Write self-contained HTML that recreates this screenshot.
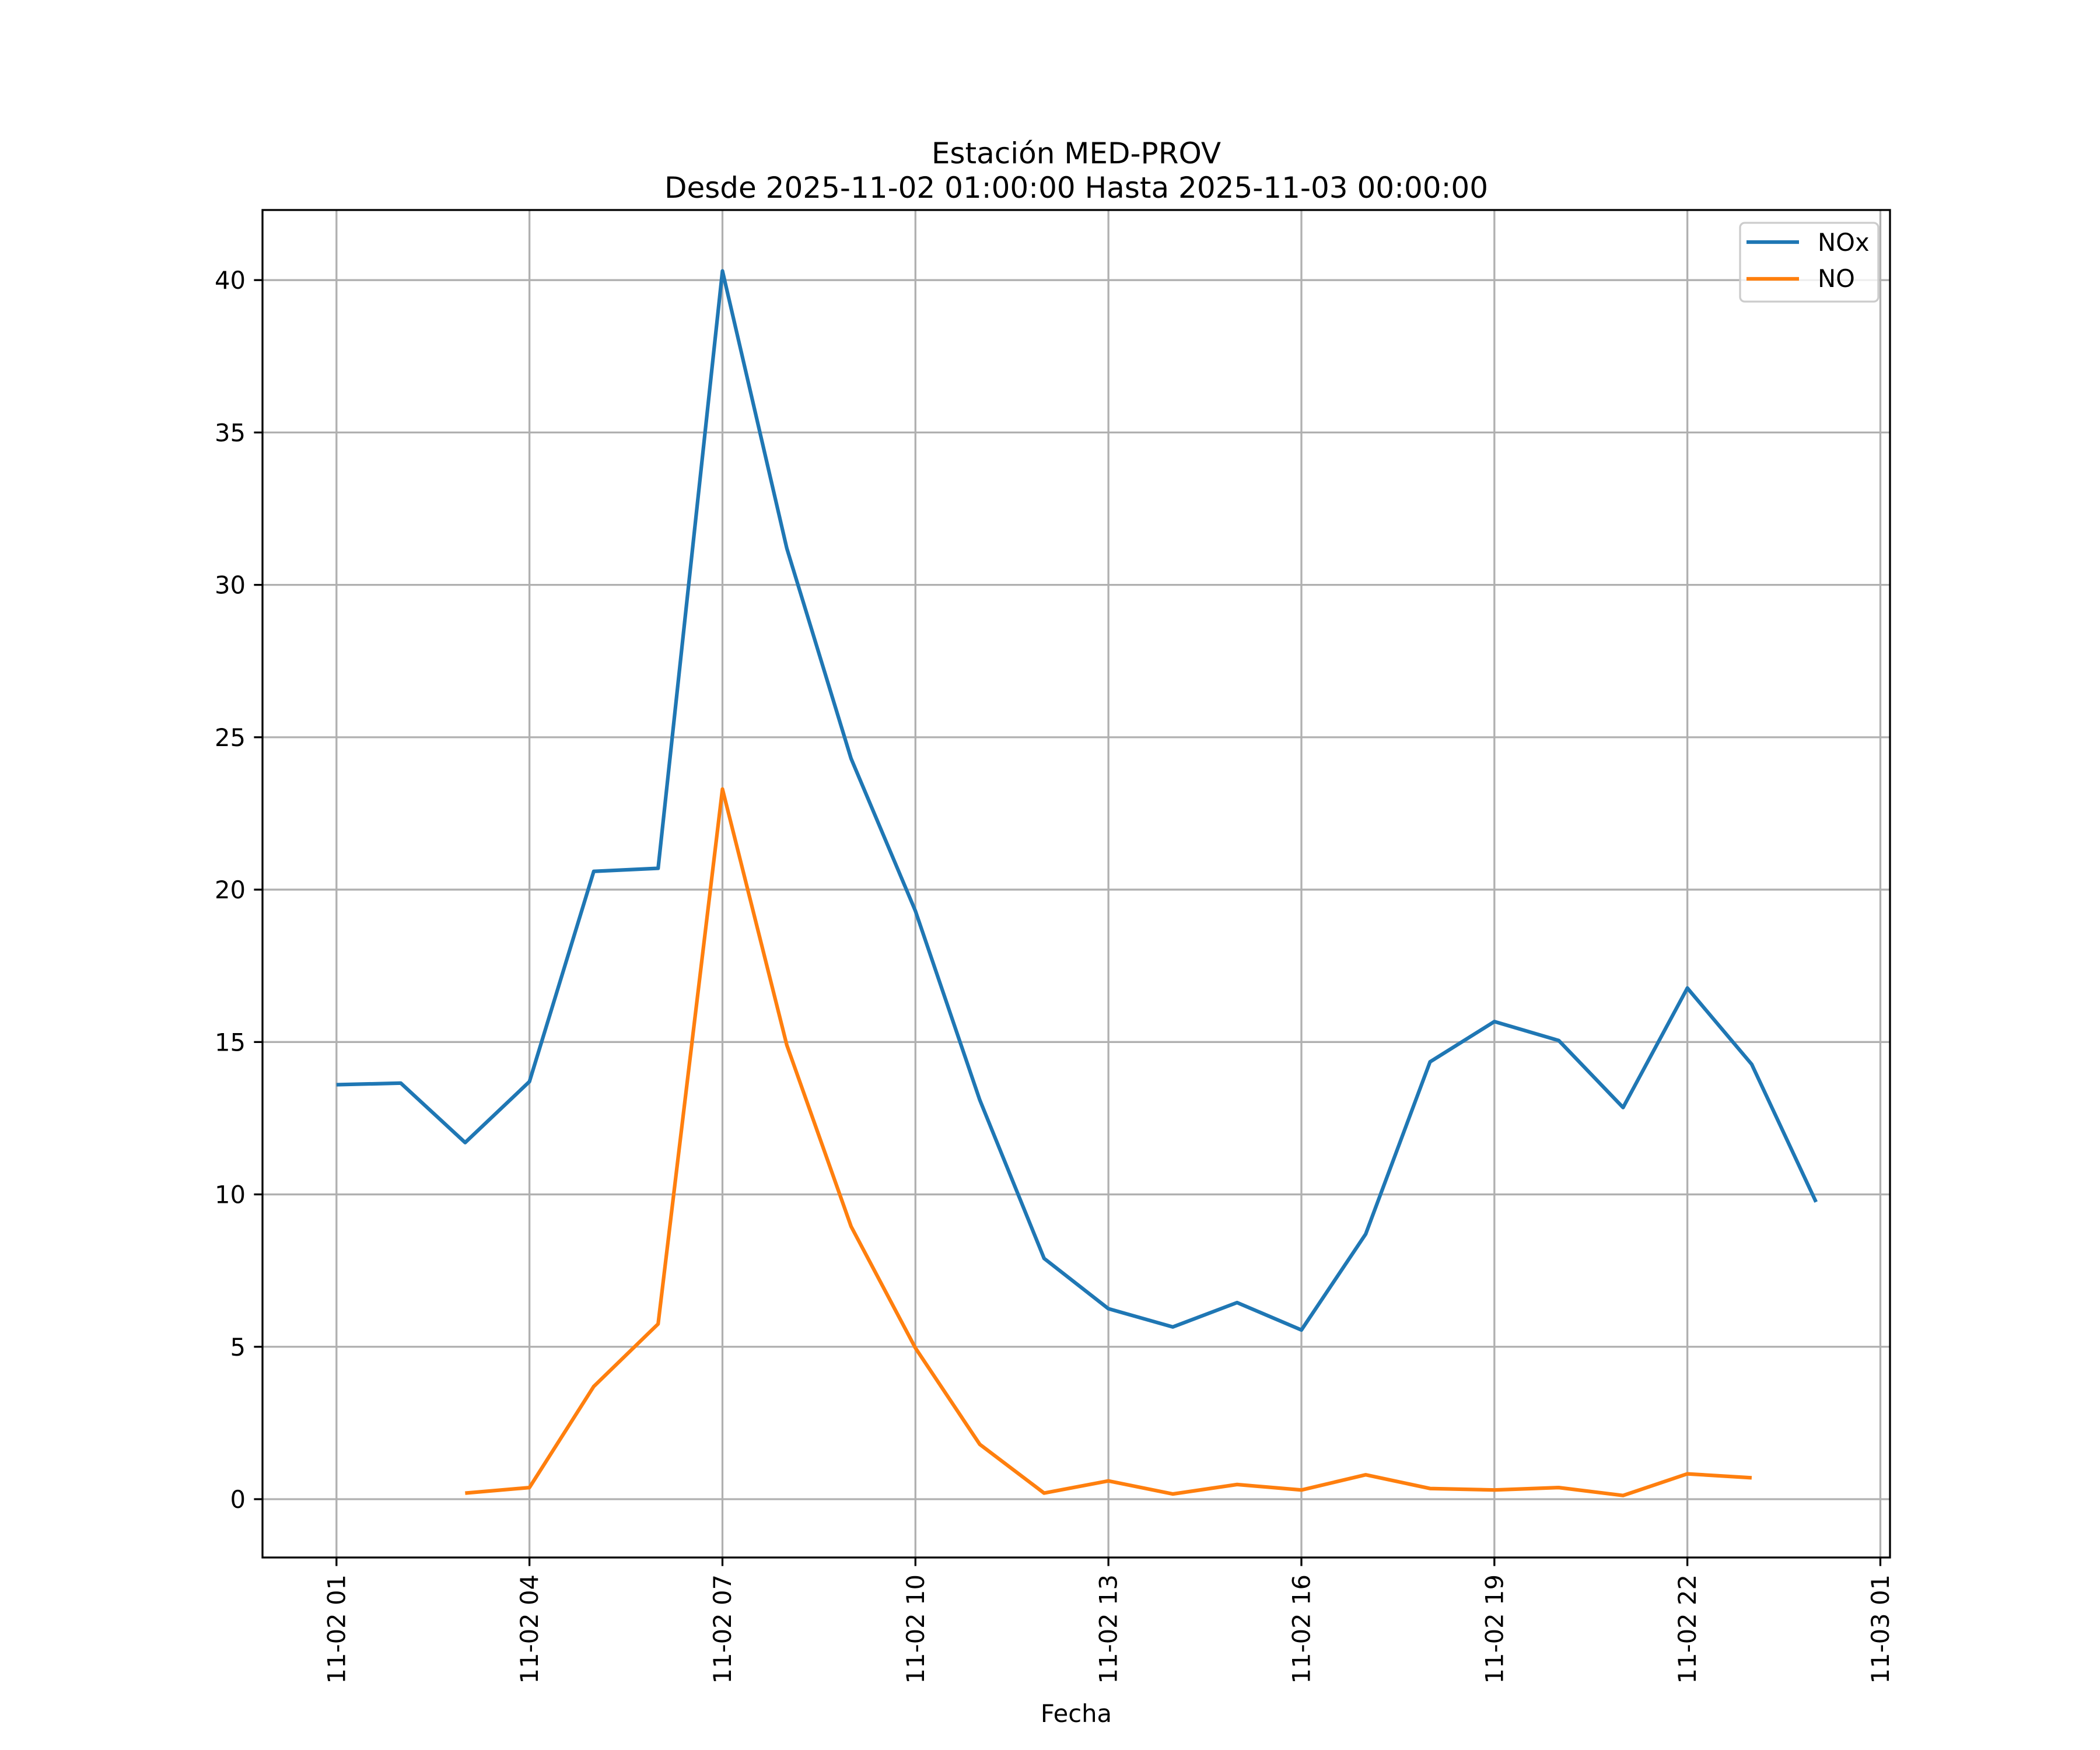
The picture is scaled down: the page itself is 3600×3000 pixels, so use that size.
<!DOCTYPE html>
<html><head><meta charset="utf-8"><style>
html,body{margin:0;padding:0;background:#fff;}
svg{display:block;font-family:"DejaVu Sans","Liberation Sans",sans-serif;}
</style></head><body>
<svg id="chart" width="3600" height="3000" xmlns="http://www.w3.org/2000/svg">
<text x="1845" y="280" font-size="50" text-anchor="middle">Estación MED-PROV</text>
<text x="1845" y="339" font-size="50" text-anchor="middle">Desde 2025-11-02 01:00:00 Hasta 2025-11-03 00:00:00</text>
<g id="grid"></g>
<g id="series"></g>
<rect x="450" y="360" width="2790" height="2310" fill="none" stroke="#000" stroke-width="3.3"/>
<g id="ticks"></g>
<text x="1845" y="2952" font-size="41.7" text-anchor="middle">Fecha</text>
<g>
<rect x="2983" y="382" width="237" height="135" rx="8" fill="#fff" fill-opacity="0.8" stroke="#ccc" stroke-width="3.3"/>
<line x1="2994" y1="415" x2="3084" y2="415" stroke="#1f77b4" stroke-width="6.25"/>
<text x="3116" y="430" font-size="41.7">NOx</text>
<line x1="2994" y1="478" x2="3084" y2="478" stroke="#ff7f0e" stroke-width="6.25"/>
<text x="3116" y="492" font-size="41.7">NO</text>
</g>
</svg>
<script>
const hours = [1,2,3,4,5,6,7,8,9,10,11,12,13,14,15,16,17,18,19,20,21,22,23,24];
const noxValues = [13.6,13.65,11.7,13.7,20.6,20.7,40.3,31.2,24.3,19.3,13.1,7.9,6.25,5.65,6.45,5.55,8.7,14.35,15.67,15.05,12.85,16.77,14.27,9.75];
const noValues = [null,null,0.2,0.38,3.7,5.75,23.3,14.9,8.95,4.96,1.8,0.2,0.6,0.17,0.48,0.3,0.8,0.35,0.3,0.38,0.12,0.83,0.7,null];
const xTickHours = [1,4,7,10,13,16,19,22,25];
const xTickLabels = ["11-02 01","11-02 04","11-02 07","11-02 10","11-02 13","11-02 16","11-02 19","11-02 22","11-03 01"];
const yTickValues = [0,5,10,15,20,25,30,35,40];

const NS="http://www.w3.org/2000/svg";
const L=450,R=3240,T=360,B=2670;
const xMin=-0.15,xMax=25.15,yMin=-1.914,yMax=42.3;
function xs(h){return L+(h-xMin)/(xMax-xMin)*(R-L);}
function ys(v){return B-(v-yMin)/(yMax-yMin)*(B-T);}
function mk(tag,attrs,parent){const e=document.createElementNS(NS,tag);for(const k in attrs)e.setAttribute(k,attrs[k]);parent.appendChild(e);return e;}
const grid=document.getElementById('grid'),ticks=document.getElementById('ticks'),series=document.getElementById('series');

xTickHours.forEach((h,i)=>{
  const x=xs(h);
  const g=mk('line',{x1:x,y1:T,x2:x,y2:B,stroke:'#b0b0b0','stroke-width':3.3},grid);
  
  
  const t=mk('line',{x1:x,y1:B,x2:x,y2:B+14.6,stroke:'#000','stroke-width':3.3},ticks);
  
  
  const tx=mk('text',{x:0,y:0,'font-size':41.7,'text-anchor':'end',transform:`translate(${x+14.5},${B+29}) rotate(-90)`},ticks);
  tx.textContent=xTickLabels[i];
  
  
});
yTickValues.forEach(v=>{
  const y=ys(v);
  const g=mk('line',{x1:L,y1:y,x2:R,y2:y,stroke:'#b0b0b0','stroke-width':3.3},grid);
  
  
  const t=mk('line',{x1:L-14.6,y1:y,x2:L,y2:y,stroke:'#000','stroke-width':3.3},ticks);
  
  
  const tx=mk('text',{x:L-29,y:y+15,'font-size':41.7,'text-anchor':'end'},ticks);
  tx.textContent=String(v);
  
  
});
function drawSeries(vals,color,name){
  let segs=[],cur=[];
  vals.forEach((v,i)=>{if(v===null){if(cur.length)segs.push(cur);cur=[];}else cur.push(xs(hours[i]).toFixed(1)+','+ys(v).toFixed(1));});
  if(cur.length)segs.push(cur);
  segs.forEach(s=>{
    const p=mk('polyline',{points:s.join(' '),fill:'none',stroke:color,'stroke-width':6.25,'stroke-linejoin':'round','stroke-linecap':'butt'},series);
    
    
  });
}
drawSeries(noxValues,'#1f77b4','nox-line');
drawSeries(noValues,'#ff7f0e','no-line');
</script>
</body></html>
